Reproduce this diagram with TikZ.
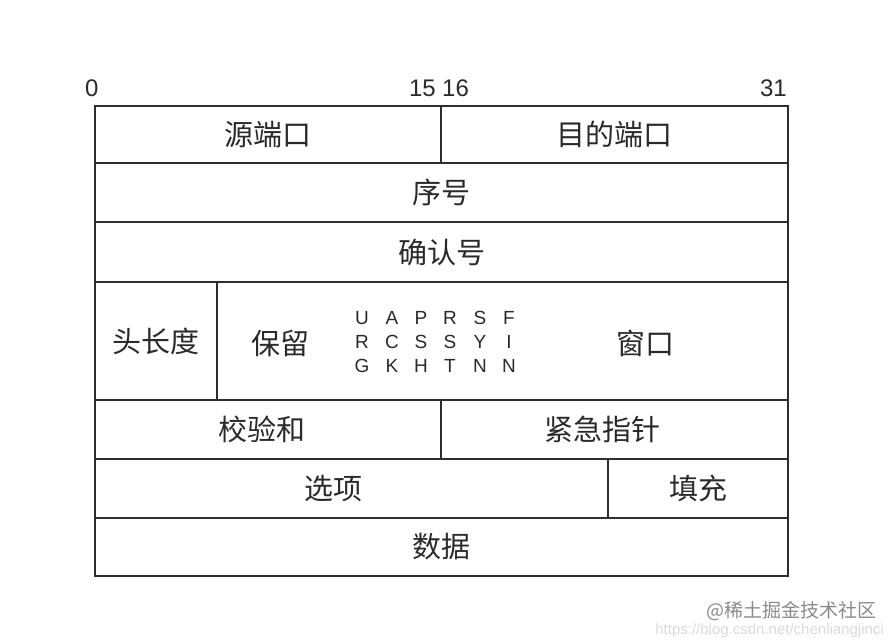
\documentclass[tikz,border=0pt]{standalone}
\usepackage{fontspec}
\setmainfont{Liberation Sans}
\newfontfamily\cjk{Noto Sans CJK SC}
\definecolor{linecol}{HTML}{2E2E2E}
\definecolor{txtcol}{HTML}{2A2A2A}
\definecolor{wmA}{HTML}{8A8A8A}
\definecolor{wmB}{HTML}{DADADA}
\tikzset{
  cell/.style={draw=linecol, line width=1.7pt, inner sep=0pt, text=txtcol,
    font=\cjk\fontsize{29}{32}\selectfont},
  lbl/.style={inner sep=0pt, text=txtcol, font=\cjk\fontsize{29}{32}\selectfont},
  bitnum/.style={inner sep=0pt, text=txtcol, font=\fontsize{24}{26}\selectfont},
  flagcol/.style={inner sep=0pt, text=txtcol, align=center,
    font=\fontsize{19}{24}\selectfont},
}
\newcommand\cellbox[6]{%
  \node[cell, minimum width={#4pt-#2pt}, minimum height={#5pt-#3pt}]
    (#1) at ({(#2+#4)/2},{(#3+#5)/2}) {#6};}
\begin{document}
\begin{tikzpicture}[x=1pt, y=-1pt]
  \useasboundingbox (0,0) rectangle (894,644);
  % bit numbers
  \node[bitnum, anchor=west] (b0) at (85,88) {0};
  \node[bitnum, anchor=east] (b15) at (436,88) {15};
  \node[bitnum, anchor=west] (b16) at (442,88) {16};
  \node[bitnum, anchor=east] (b31) at (787,88) {31};
  % rows
  \cellbox{src}{95}{106}{441}{163}{源端口}
  \cellbox{dst}{441}{106}{788}{163}{目的端口}
  \cellbox{seq}{95}{163}{788}{222}{序号}
  \cellbox{ack}{95}{222}{788}{282}{确认号}
  \cellbox{hlen}{95}{282}{217}{400}{头长度}
  \cellbox{ctrl}{217}{282}{788}{400}{}
  \cellbox{chk}{95}{400}{441}{459}{\hspace*{-12pt}校验和}
  \cellbox{urg}{441}{400}{788}{459}{\hspace*{-24pt}紧急指针}
  \cellbox{opt}{95}{459}{608}{518}{\hspace*{-36pt}选项}
  \cellbox{pad}{608}{459}{788}{518}{填充}
  \cellbox{data}{95}{518}{788}{576}{数据}
  % control row contents
  \node[lbl] (resv) at (280,343) {保留};
  \node[lbl] (win) at (645,343) {窗口};
  \node[flagcol] (fU) at (362,342) {U\\R\\G};
  \node[flagcol] (fA) at (392,342) {A\\C\\K};
  \node[flagcol] (fP) at (421,342) {P\\S\\H};
  \node[flagcol] (fR) at (450,342) {R\\S\\T};
  \node[flagcol] (fS) at (480,342) {S\\Y\\N};
  \node[flagcol] (fF) at (509,342) {F\\I\\N};
  % watermark
  \node[inner sep=0pt, anchor=east, text=wmA, font=\cjk\fontsize{19}{20}\selectfont] (wm) at (877,611) {@稀土掘金技术社区};
  \node[inner sep=0pt, anchor=north east, text=wmB, font=\fontsize{15}{16}\selectfont] (url) at (884,623) {https://blog.csdn.net/chenliangjinci};
\end{tikzpicture}
\end{document}
